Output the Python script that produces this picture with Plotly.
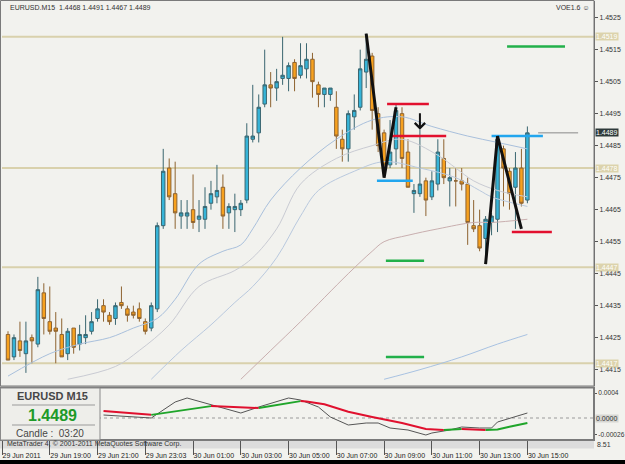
import plotly.graph_objects as go

# ---------------- data ----------------
bar_index = list(range(88))  # M15 bars, 29 Jun 17:15 ... 30 Jun 15:00

opens = [1.4426, 1.4419, 1.4424, 1.4420, 1.4425, 1.4423, 1.4439, 1.4430, 1.4428, 1.4426,
         1.4420, 1.4428, 1.4423, 1.4425, 1.4427, 1.4431, 1.4435, 1.4432, 1.4431, 1.4436,
         1.4434, 1.4433, 1.4434, 1.4430, 1.4428, 1.4434, 1.4460, 1.4478, 1.4470, 1.4463,
         1.4463, 1.4465, 1.4462, 1.4462, 1.4467, 1.4469, 1.4472, 1.4464, 1.4465, 1.4465,
         1.4468, 1.4487, 1.4489, 1.4498, 1.4504, 1.4503, 1.4506, 1.4506, 1.4511, 1.4507,
         1.4509, 1.4512, 1.4504, 1.4501, 1.4501, 1.4497, 1.4487, 1.4484, 1.4494, 1.4497,
         1.4508, 1.4513, 1.4495, 1.4489, 1.4479, 1.4484, 1.4495, 1.4483, 1.4470, 1.4470,
         1.4474, 1.4469, 1.4473, 1.4481, 1.4474, 1.4474, 1.4474, 1.4473, 1.4460, 1.4460,
         1.4456, 1.4461, 1.4462, 1.4484, 1.4477, 1.4472, 1.4478, 1.4468]
highs = [1.4427, 1.4426, 1.4430, 1.4430, 1.4426, 1.4444, 1.4442, 1.4441, 1.4433, 1.4431,
         1.4428, 1.4428, 1.4429, 1.4432, 1.4433, 1.4437, 1.4437, 1.4433, 1.4436, 1.4441,
         1.4435, 1.4435, 1.4436, 1.4431, 1.4436, 1.4461, 1.4484, 1.4481, 1.4480, 1.4468,
         1.4468, 1.4476, 1.4468, 1.4472, 1.4474, 1.4479, 1.4476, 1.4467, 1.4470, 1.4468,
         1.4492, 1.4504, 1.4501, 1.4515, 1.4508, 1.4509, 1.4519, 1.4511, 1.4512, 1.4517,
         1.4517, 1.4514, 1.4505, 1.4503, 1.4503, 1.4502, 1.4490, 1.4496, 1.4501, 1.4515,
         1.4520, 1.4514, 1.4497, 1.4490, 1.4493, 1.4498, 1.4497, 1.4487, 1.4473, 1.4490,
         1.4475, 1.4477, 1.4487, 1.4487, 1.4478, 1.4478, 1.4478, 1.4475, 1.4468, 1.4465,
         1.4463, 1.4464, 1.4488, 1.4485, 1.4478, 1.4483, 1.4484, 1.4491]
lows = [1.4418, 1.4418, 1.4419, 1.4414, 1.4417, 1.4422, 1.4426, 1.4426, 1.4417, 1.4419,
        1.4418, 1.4420, 1.4421, 1.4423, 1.4426, 1.4430, 1.4430, 1.4429, 1.4429, 1.4434,
        1.4430, 1.4431, 1.4430, 1.4426, 1.4427, 1.4433, 1.4459, 1.4468, 1.4459, 1.4459,
        1.4459, 1.4459, 1.4458, 1.4459, 1.4465, 1.4467, 1.4459, 1.4459, 1.4458, 1.4463,
        1.4467, 1.4486, 1.4486, 1.4497, 1.4497, 1.4499, 1.4504, 1.4502, 1.4502, 1.4506,
        1.4506, 1.4500, 1.4497, 1.4497, 1.4499, 1.4484, 1.4480, 1.4480, 1.4490, 1.4496,
        1.4503, 1.4490, 1.4483, 1.4475, 1.4478, 1.4479, 1.4478, 1.4472, 1.4464, 1.4469,
        1.4463, 1.4468, 1.4471, 1.4473, 1.4466, 1.4466, 1.4471, 1.4454, 1.4458, 1.4452,
        1.4448, 1.4457, 1.4458, 1.4466, 1.4465, 1.4459, 1.4466, 1.4467]
closes = [1.4418, 1.4425, 1.4421, 1.4424, 1.4424, 1.4440, 1.4431, 1.4427, 1.4427, 1.4419,
          1.4427, 1.4422, 1.4426, 1.4426, 1.4430, 1.4434, 1.4433, 1.4430, 1.4435, 1.4435,
          1.4432, 1.4432, 1.4431, 1.4427, 1.4435, 1.4460, 1.4477, 1.4469, 1.4464, 1.4464,
          1.4464, 1.4461, 1.4463, 1.4466, 1.4470, 1.4471, 1.4463, 1.4466, 1.4466, 1.4467,
          1.4488, 1.4488, 1.4497, 1.4504, 1.4503, 1.4505, 1.4507, 1.4510, 1.4506, 1.4510,
          1.4512, 1.4505, 1.4501, 1.4503, 1.4503, 1.4488, 1.4484, 1.4495, 1.4496, 1.4509,
          1.4512, 1.4496, 1.4485, 1.4479, 1.4483, 1.4496, 1.4481, 1.4472, 1.4471, 1.4473,
          1.4468, 1.4474, 1.4483, 1.4475, 1.4475, 1.4474, 1.4473, 1.4461, 1.4459, 1.4453,
          1.4462, 1.4463, 1.4487, 1.4478, 1.4470, 1.4478, 1.4467, 1.4489]

time_tick_index = [-1, 7, 15, 23, 31, 39, 47, 55, 63, 71, 79, 87]
time_tick_text = ["29 Jun 2011", "29 Jun 19:00", "29 Jun 21:00", "29 Jun 23:03",
                  "30 Jun 01:00", "30 Jun 03:00", "30 Jun 05:00", "30 Jun 07:00",
                  "30 Jun 09:00", "30 Jun 11:00", "30 Jun 13:00", "30 Jun 15:00"]
price_tick_values = [1.4415, 1.4425, 1.4435, 1.4445, 1.4455, 1.4465,
                     1.4475, 1.4485, 1.4495, 1.4505, 1.4515, 1.4525]

# moving averages (read at a few bars)
ma1_index = [0, 7, 12, 17, 21, 25, 28, 32, 36, 39, 41, 44, 49, 55, 61, 66, 71, 77, 82, 87]
ma1_value = [1.4413, 1.4420, 1.4423, 1.4425, 1.4428, 1.4431, 1.4437, 1.4448, 1.4452, 1.4454,
             1.4459, 1.4468, 1.4478, 1.4487, 1.4493, 1.4494, 1.4491, 1.4488, 1.4486, 1.4484]
ma2_index = [10, 18, 22, 27, 32, 38, 41, 45, 49, 55, 61, 66, 72, 75, 78, 82, 87]
ma2_value = [1.4412, 1.4416, 1.4421, 1.4429, 1.4441, 1.4446, 1.4450, 1.4459, 1.4473, 1.4481,
             1.4485, 1.4487, 1.4482, 1.4478, 1.4474, 1.4471, 1.4469]
ma3_index = [24, 29, 34, 38, 41, 45, 49, 52, 58, 63, 69, 75, 79, 81, 87]
ma3_value = [1.4412, 1.4421, 1.4429, 1.4436, 1.4441, 1.4450, 1.4463, 1.4471, 1.4477, 1.4480,
             1.4478, 1.4475, 1.4471, 1.4469, 1.4466]
ma4_index = [39, 44, 49, 57, 61, 63, 67, 72, 78, 81, 87]
ma4_value = [1.4412, 1.4421, 1.4430, 1.4445, 1.4452, 1.4455, 1.4457, 1.4459, 1.4461, 1.4461, 1.4462]
ma5_index = [63, 69, 76, 82, 87]
ma5_value = [1.4412, 1.4415, 1.4419, 1.4423, 1.4426]

# zigzag legs
zz1_index = [60, 63, 65]
zz1_value = [1.4520, 1.4475, 1.4497]
zz2_index = [80, 82, 86]
zz2_value = [1.4448, 1.4488, 1.4459]

# horizontal level segments (start bar, end bar, price, kind)
seg_start = [63.5, 64.0, 61.8, 81.0, 84.4, 83.6, 63.3, 63.3]
seg_end = [70.5, 73.4, 67.8, 89.6, 91.1, 93.3, 69.7, 69.7]
seg_price = [1.4498, 1.4488, 1.4474, 1.4488, 1.4458, 1.4516, 1.4449, 1.4419]
seg_kind = ["red", "red", "blue", "blue", "red", "green", "green", "green"]

# support/resistance lines across the chart
hline_price = [1.4519, 1.4478, 1.4447, 1.4417]

# signal arrow
arrow_index = 69
arrow_price = 1.4490

# oscillator panel
osc_index = [16, 23, 24, 28, 30, 33, 39, 42, 47, 49, 52, 54, 57, 60, 62, 64, 67, 70, 71, 74,
             76, 79, 81, 82, 85, 87]
osc_value = [0.000048, 0.000016, 0.0, 0.000256, 0.00032, 0.00024, 0.00008, 0.000176, 0.00032,
             0.000288, 0.000176, 0.000016, -0.000112, -0.00008, -0.00008, -0.00016, -0.000192,
             -0.000272, -0.00024, -0.000192, -0.000144, -0.00016, -0.00016, -0.000064,
             0.000016, 0.00008]
sig_index = [16, 20, 24, 28, 32, 34, 38, 42, 46, 49, 50, 53, 57, 61, 66, 70, 73, 76, 80, 82, 84, 87]
sig_value = [0.00011, 0.00008, 0.00005, 0.00011, 0.00016, 0.00019, 0.000176, 0.00016, 0.00022,
             0.00027, 0.000264, 0.00022, 0.0001, 0.000016, -0.00008, -0.000176, -0.000192,
             -0.000176, -0.000192, -0.000184, -0.00014, -0.00008]

# ---------------- figure ----------------
FONT = "Liberation Sans, Arial, sans-serif"
BG = "#F2F2EE"
fig = go.Figure()

ma_specs = [(ma3_index, ma3_value, "#B9C9DE"), (ma2_index, ma2_value, "#C9CBD3"),
            (ma1_index, ma1_value, "#A9C0DC"), (ma4_index, ma4_value, "#C9AFAF"),
            (ma5_index, ma5_value, "#A8C2E2")]
for xi, yv, col in ma_specs:
    fig.add_trace(go.Scatter(x=xi, y=yv, mode="lines", line=dict(color=col, width=1, shape="spline"),
                             hoverinfo="skip", showlegend=False))

fig.add_trace(go.Candlestick(
    x=bar_index, open=opens, high=highs, low=lows, close=closes,
    increasing=dict(line=dict(color="#3A6670", width=1), fillcolor="#36B4D8"),
    decreasing=dict(line=dict(color="#8E6330", width=1), fillcolor="#F7A11E"),
    whiskerwidth=0, showlegend=False, hoverinfo="skip"))

seg_colors = {"red": "#E2102E", "blue": "#22A6EE", "green": "#22B04A"}
for s, e, p, k in zip(seg_start, seg_end, seg_price, seg_kind):
    fig.add_trace(go.Scatter(x=[s, e], y=[p, p], mode="lines",
                             line=dict(color=seg_colors[k], width=2.5),
                             hoverinfo="skip", showlegend=False))

# current price short line
fig.add_trace(go.Scatter(x=[88.8, 95.5], y=[closes[-1], closes[-1]], mode="lines",
                         line=dict(color="#8A8A8A", width=1), hoverinfo="skip", showlegend=False))

for xi, yv in [(zz1_index, zz1_value), (zz2_index, zz2_value)]:
    fig.add_trace(go.Scatter(x=xi, y=yv, mode="lines", line=dict(color="#111111", width=3),
                             hoverinfo="skip", showlegend=False))

# oscillator panel
fig.add_trace(go.Scatter(x=osc_index, y=osc_value, yaxis="y2", mode="lines",
                         line=dict(color="#555555", width=1), hoverinfo="skip", showlegend=False))
# signal line coloured by direction
run_x, run_y, run_col = [sig_index[0]], [sig_value[0]], None
for i in range(1, len(sig_index)):
    col = "#1FA52A" if sig_value[i] > sig_value[i - 1] else "#E0102E"
    if run_col is not None and col != run_col:
        fig.add_trace(go.Scatter(x=run_x, y=run_y, yaxis="y2", mode="lines",
                                 line=dict(color=run_col, width=2), hoverinfo="skip", showlegend=False))
        run_x, run_y = [sig_index[i - 1]], [sig_value[i - 1]]
    run_col = col
    run_x.append(sig_index[i])
    run_y.append(sig_value[i])
fig.add_trace(go.Scatter(x=run_x, y=run_y, yaxis="y2", mode="lines",
                         line=dict(color=run_col, width=2), hoverinfo="skip", showlegend=False))

# ---------------- geometry helpers (pixel -> paper) ----------------
def px(X):
    return (X - 2) / 592.0

def py(Y):
    return (440 - Y) / 439.0

shapes = []
for p in hline_price:
    shapes.append(dict(type="line", xref="paper", x0=0, x1=1, yref="y", y0=p, y1=p,
                       line=dict(color="#D9D1AC", width=2), layer="below"))
# zero dotted line in panel
shapes.append(dict(type="line", xref="paper", x0=0, x1=1, yref="y2", y0=0, y1=0,
                   line=dict(color="#9A9A9A", width=1, dash="dot"), layer="below"))
# frames
shapes.append(dict(type="rect", xref="paper", yref="paper", x0=px(0.5), x1=1, y0=py(386), y1=py(0.5),
                   line=dict(color="#7A7A7A", width=1)))
shapes.append(dict(type="rect", xref="paper", yref="paper", x0=px(0.5), x1=1, y0=py(440), y1=py(387.5),
                   line=dict(color="#7A7A7A", width=2)))
# info box
shapes.append(dict(type="rect", xref="paper", yref="paper", x0=px(0.5), x1=px(100), y0=py(440), y1=py(388),
                   fillcolor="#EEEEEA", line=dict(color="#8A8A8A", width=1), layer="above"))
for Y in (405, 425):
    shapes.append(dict(type="line", xref="paper", yref="paper", x0=px(12), x1=px(95), y0=py(Y), y1=py(Y),
                       line=dict(color="#9A9A9A", width=1), layer="above"))
# copyright strip and bottom band
shapes.append(dict(type="rect", xref="paper", yref="paper", x0=px(0), x1=1, y0=py(448.5), y1=py(441),
                   fillcolor="#DCDCDC", line=dict(width=0), layer="below"))
shapes.append(dict(type="rect", xref="paper", yref="paper", x0=px(-5), x1=px(630), y0=py(468), y1=py(460),
                   fillcolor="#000000", line=dict(width=0), layer="above"))

annotations = [
    dict(xref="paper", yref="paper", x=px(8), y=py(8), xanchor="left", yanchor="middle", showarrow=False,
         text=f"EURUSD.M15  {opens[-1]:.4f} {highs[-1]:.4f} {lows[-1]:.4f} {closes[-1]:.4f}",
         font=dict(size=7, color="#333333", family=FONT)),
    dict(xref="paper", yref="paper", x=px(592), y=py(8), xanchor="right", yanchor="middle", showarrow=False,
         text="VOE1.6 \u263a", font=dict(size=7, color="#333333", family=FONT)),
    dict(xref="paper", yref="paper", x=px(52), y=py(396), xanchor="center", yanchor="middle", showarrow=False,
         text="<b>EURUSD M15</b>", font=dict(size=11, color="#474747", family=FONT)),
    dict(xref="paper", yref="paper", x=px(52), y=py(415), xanchor="center", yanchor="middle", showarrow=False,
         text=f"<b>{closes[-1]:.4f}</b>", font=dict(size=16, color="#1E9A28", family=FONT)),
    dict(xref="paper", yref="paper", x=px(50), y=py(433), xanchor="center", yanchor="middle", showarrow=False,
         text="Candle :  03:20", font=dict(size=10, color="#474747", family=FONT)),
    dict(xref="paper", yref="paper", x=px(5), y=py(444.5), xanchor="left", yanchor="middle", showarrow=False,
         text="MetaTrader 4, \u00a9 2001-2011 MetaQuotes Software Corp.",
         font=dict(size=7, color="#333333", family=FONT)),
    dict(xref="paper", yref="y2", x=1, y=0, xanchor="left", yanchor="middle", xshift=1, showarrow=False,
         text="0.0000", bgcolor="#D6D6D2", borderpad=0, font=dict(size=7, color="#333333", family=FONT)),
    dict(xref="paper", yref="paper", x=1, y=py(444), xanchor="left", yanchor="middle", xshift=1, showarrow=False,
         text="8.51", font=dict(size=7, color="#333333", family=FONT)),
    dict(x=arrow_index, y=arrow_price, xref="x", yref="y", ax=0, ay=-18, showarrow=True,
         arrowhead=4, arrowsize=1.0, arrowwidth=2, arrowcolor="#111111", text=""),
]
for p in hline_price:
    annotations.append(dict(xref="paper", yref="y", x=1, y=p, xanchor="left", yanchor="middle", xshift=1,
                            showarrow=False, text=f"{p:.4f}", bgcolor="#DCD3AC", borderpad=0,
                            font=dict(size=7, color="#FFFFFF", family=FONT)))
annotations.append(dict(xref="paper", yref="y", x=1, y=closes[-1], xanchor="left", yanchor="middle", xshift=1,
                        showarrow=False, text=f"{closes[-1]:.4f}", bgcolor="#2E3A3A", borderpad=0,
                        font=dict(size=7, color="#FFFFFF", family=FONT)))

fig.update_layout(
    template="none",
    width=625, height=464,
    margin=dict(l=2, r=31, t=1, b=24, pad=0),
    paper_bgcolor=BG, plot_bgcolor=BG,
    font=dict(family=FONT, size=7, color="#333333"),
    showlegend=False,
    boxgap=0.42, boxgroupgap=0.0,
    xaxis=dict(range=[-1.005, 98.16], anchor="free", position=0, tickvals=time_tick_index,
               ticktext=time_tick_text, ticks="outside", ticklen=14, tickwidth=1, tickcolor="#555555",
               tickangle=0, ticklabelposition="outside right", ticklabelstandoff=9,
               tickfont=dict(size=7, color="#222222", family=FONT),
               showgrid=False, zeroline=False, showline=False, automargin=False,
               rangeslider=dict(visible=False)),
    yaxis=dict(domain=[py(386), 1], range=[1.44099, 1.45302], side="right", anchor="x",
               tickvals=price_tick_values, ticktext=[f"{v:.4f}" for v in price_tick_values],
               ticks="outside", ticklen=3, tickcolor="#555555", showline=True, linecolor="#6A6A6A",
               showgrid=False, zeroline=False, automargin=False,
               tickfont=dict(size=7, color="#333333", family=FONT)),
    yaxis2=dict(domain=[0, py(388)], range=[-0.000352, 0.00048], side="right", anchor="x",
                tickvals=[0.0004, -0.00026], ticktext=["0.0004", "-0.00026"],
                ticks="outside", ticklen=2, tickcolor="#555555", showline=True, linecolor="#6A6A6A",
                showgrid=False, zeroline=False, automargin=False,
                tickfont=dict(size=6.6, color="#333333", family=FONT)),
    shapes=shapes, annotations=annotations,
)

fig.write_html("out.html")
